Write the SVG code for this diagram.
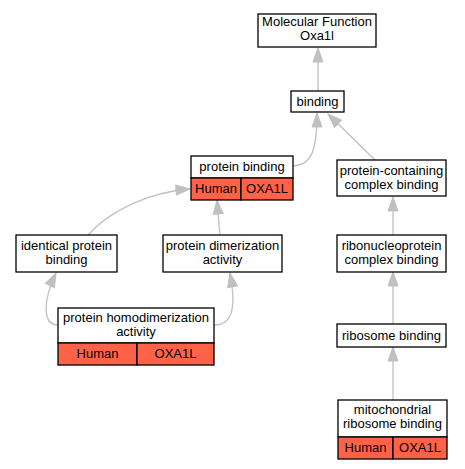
<svg xmlns="http://www.w3.org/2000/svg" width="465" height="469" viewBox="0 0 465 469">
<defs>
<style>
.n rect{stroke:#000;stroke-width:1.3}
.w{fill:#fff}
.r{fill:#ff6347}
text{font-family:"Liberation Sans",Arial,sans-serif;font-size:13px;text-anchor:middle;fill:#000}
.e path{fill:none;stroke:#c0c0c0;stroke-width:1.3;marker-end:url(#ah)}
</style>
<marker id="ah" markerUnits="userSpaceOnUse" markerWidth="16" markerHeight="12" viewBox="0 0 16 12" refX="15" refY="6" orient="auto">
<path d="M1,1 L15,6 L1,11 Z" fill="#c0c0c0" stroke="#c0c0c0"/>
</marker>
</defs>
<rect x="0" y="0" width="465" height="469" fill="#fff"/>
<g class="e" id="edges">
<path d="M318,91 L318,48"/>
<path d="M293,166 C312,165 317,150 317,113"/>
<path d="M375,160 L328,114"/>
<path d="M87,236 C110,210 150,192 190,189"/>
<path d="M220,236 L217,200"/>
<path d="M58,325 C42,325 43,300 56,273"/>
<path d="M214,325 C236,325 235,300 230,273"/>
<path d="M393,236 L393,197"/>
<path d="M393,324 L393,272"/>
<path d="M393,400 L393,347"/>
</g>
<g class="n" id="mf"><rect class="w" x="258" y="14" width="118" height="33"/><text x="317" y="26">Molecular Function</text><text x="317" y="40">Oxa1l</text></g>
<g class="n" id="binding"><rect class="w" x="291" y="91" width="53" height="21"/><text x="317.5" y="106">binding</text></g>
<g class="n" id="pb"><rect class="w" x="191" y="156" width="102" height="22"/><text x="242" y="171">protein binding</text>
<rect class="r" x="191" y="178" width="50" height="22"/><text x="216" y="193">Human</text>
<rect class="r" x="241" y="178" width="52" height="22"/><text x="267" y="193">OXA1L</text></g>
<g class="n" id="pcb"><rect class="w" x="337" y="160" width="109" height="36"/><text x="391.5" y="175">protein-containing</text><text x="391.5" y="189">complex binding</text></g>
<g class="n" id="ipb"><rect class="w" x="16" y="235" width="101" height="37"/><text x="66.5" y="250">identical protein</text><text x="66.5" y="264">binding</text></g>
<g class="n" id="pda"><rect class="w" x="163" y="235" width="119" height="37"/><text x="222.5" y="250">protein dimerization</text><text x="222.5" y="264">activity</text></g>
<g class="n" id="rcb"><rect class="w" x="337" y="235" width="109" height="37"/><text x="391.5" y="250">ribonucleoprotein</text><text x="391.5" y="264">complex binding</text></g>
<g class="n" id="rb"><rect class="w" x="337" y="324" width="109" height="23"/><text x="391.5" y="340">ribosome binding</text></g>
<g class="n" id="pha"><rect class="w" x="58" y="308" width="156" height="35"/><text x="136" y="322">protein homodimerization</text><text x="136" y="336">activity</text>
<rect class="r" x="58" y="343" width="79" height="22"/><text x="97.5" y="358">Human</text>
<rect class="r" x="137" y="343" width="77" height="22"/><text x="175.5" y="358">OXA1L</text></g>
<g class="n" id="mrb"><rect class="w" x="338" y="400" width="109" height="37"/><text x="392.5" y="414">mitochondrial</text><text x="392.5" y="428">ribosome binding</text>
<rect class="r" x="338" y="437" width="55" height="22"/><text x="365.5" y="452">Human</text>
<rect class="r" x="393" y="437" width="54" height="22"/><text x="420" y="452">OXA1L</text></g>
</svg>
